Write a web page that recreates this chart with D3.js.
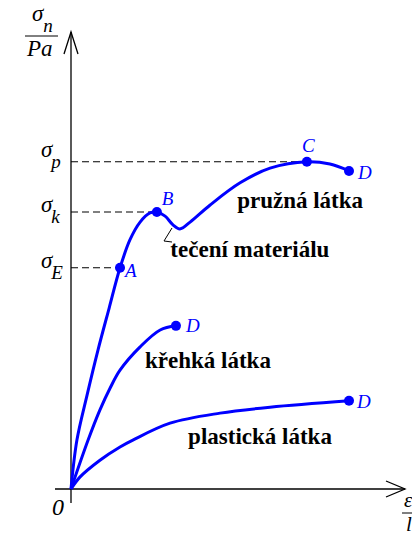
<!DOCTYPE html>
<html lang="cs">
<head>
    <meta charset="utf-8">
    <title>Tahový diagram</title>
    <style>
        body { margin: 0; background: #fff; }
        svg { display: block; }
    </style>
    <script src="https://d3js.org/d3.v7.min.js"></script>
</head>
<body>
<svg></svg>
<script>
    const width = 412;
    const height = 539;
    const serif = "Liberation Serif";

    // curves: [strain, stress] in relative units (0..100)
    const pruzna = [
        [0, 0], [1.8, 10.7], [4.9, 20.6], [8.2, 30.4], [11.6, 39.6], [14.9, 48.4],
        [17.9, 54.5], [21.0, 58.4], [24.0, 60.4], [26.1, 60.6], [28.6, 59.7],
        [31.0, 57.8], [33.1, 56.9], [36.2, 58.4], [42.2, 62.1], [51.4, 67.0],
        [60.5, 70.2], [71.7, 71.6], [78.7, 71.1], [84.5, 69.6]
    ];
    const krehka = [
        [0, 0], [5.2, 10.7], [8.8, 17.3], [11.9, 22.1], [14.9, 26.0],
        [21.0, 31.1], [27.1, 34.8], [31.9, 35.7]
    ];
    const plasticka = [
        [0, 0], [2.7, 2.6], [8.8, 6.3], [14.9, 9.2], [18.8, 10.7],
        [30.1, 14.4], [45.3, 16.6], [60.5, 17.9], [84.5, 19.3]
    ];

    // marked points
    const pointNames = ["A", "B", "C", "D", "D", "D"];
    const pointX = [14.9, 26.1, 71.7, 84.5, 31.9, 84.5];
    const pointY = [48.4, 60.6, 71.6, 69.6, 35.7, 19.3];

    // stress levels on the y axis
    const levelSubs = ["p", "k", "E"];
    const levelY = [71.6, 60.6, 48.4];
    const levelToX = [71.7, 26.1, 14.9];

    const materialTexts = ["pružná látka", "tečení materiálu", "křehká látka", "plastická látka"];
    const materialX = [50.5, 30.2, 22.5, 35.6];
    const materialY = [61.5, 50.8, 26.4, 9.8];

    // label offsets in px
    const pointOffsets = [[5, 9], [5, -7], [-5, -10], [9, 8], [10, 6], [8, 7]];
    const levelOffsets = [-5, 0, 0];

    const points = pointNames.map((n, i) => ({ name: n, x: pointX[i], y: pointY[i], off: pointOffsets[i] }));
    const levels = levelSubs.map((s, i) => ({ sub: s, y: levelY[i], toX: levelToX[i], off: levelOffsets[i] }));
    const materials = materialTexts.map((t, i) => ({ text: t, x: materialX[i], y: materialY[i] }));

    const svg = d3.select("svg").attr("width", width).attr("height", height);

    const x = d3.scaleLinear().domain([0, 100]).range([71, 400]);
    const y = d3.scaleLinear().domain([0, 100]).range([489, 32]);

    const line = d3.line()
        .x(d => x(d[0]))
        .y(d => y(d[1]))
        .curve(d3.curveCatmullRom.alpha(0.5));

    // dashed guides
    svg.selectAll(".guide")
        .data(levels)
        .enter().append("line")
        .attr("class", "guide")
        .attr("x1", x(0)).attr("x2", d => x(d.toX))
        .attr("y1", d => y(d.y)).attr("y2", d => y(d.y))
        .attr("stroke", "#000")
        .attr("stroke-width", 1.1)
        .attr("stroke-dasharray", "7,4");

    // axes
    const ox = x(0), oy = y(0);
    svg.append("line")
        .attr("x1", ox).attr("y1", oy + 14).attr("x2", ox).attr("y2", 32)
        .attr("stroke", "#000").attr("stroke-width", 1.3);
    svg.append("line")
        .attr("x1", ox - 16).attr("y1", oy).attr("x2", 405).attr("y2", oy)
        .attr("stroke", "#000").attr("stroke-width", 1.3);
    svg.append("path")
        .attr("d", `M${ox - 7},54 L${ox},32 L${ox + 7},54`)
        .attr("fill", "none").attr("stroke", "#000").attr("stroke-width", 1.3);
    svg.append("path")
        .attr("d", `M386,${oy - 8} L405,${oy} L386,${oy + 8}`)
        .attr("fill", "none").attr("stroke", "#000").attr("stroke-width", 1.3);

    // curves
    [pruzna, krehka, plasticka].forEach(c => {
        svg.append("path")
            .datum(c)
            .attr("d", line)
            .attr("fill", "none")
            .attr("stroke", "#0000ff")
            .attr("stroke-width", 3);
    });

    // yield marker
    svg.append("path")
        .attr("d", "M172,228 L164,241 L172,242")
        .attr("fill", "none").attr("stroke", "#000").attr("stroke-width", 1);

    svg.selectAll(".dot")
        .data(points)
        .enter().append("circle")
        .attr("class", "dot")
        .attr("cx", d => x(d.x))
        .attr("cy", d => y(d.y))
        .attr("r", 5)
        .attr("fill", "#0000ff");

    svg.selectAll(".pt")
        .data(points)
        .enter().append("text")
        .attr("class", "pt")
        .attr("font-family", serif)
        .attr("font-style", "italic")
        .attr("font-size", 19)
        .attr("fill", "#0000ff")
        .attr("x", d => x(d.x) + d.off[0])
        .attr("y", d => y(d.y) + d.off[1])
        .text(d => d.name);

    svg.selectAll(".mat")
        .data(materials)
        .enter().append("text")
        .attr("class", "mat")
        .attr("font-family", serif)
        .attr("font-weight", "bold")
        .attr("font-size", 23)
        .attr("x", d => x(d.x))
        .attr("y", d => y(d.y))
        .text(d => d.text);

    function italic(sel, size) {
        return sel.attr("font-family", serif).attr("font-style", "italic").attr("font-size", size);
    }

    // sigma labels
    const sig = italic(svg.selectAll(".sig")
        .data(levels)
        .enter().append("text")
        .attr("class", "sig"), 23)
        .attr("x", 41)
        .attr("y", d => y(d.y) + d.off);
    sig.append("tspan").text("σ");
    sig.append("tspan")
        .attr("dx", -1).attr("dy", 11)
        .attr("font-size", 19)
        .text(d => d.sub);

    // y axis unit
    const yl = italic(svg.append("text"), 23).attr("x", 32).attr("y", 21);
    yl.append("tspan").text("σ");
    yl.append("tspan").attr("dx", 0).attr("dy", 11).attr("font-size", 19).text("n");
    svg.append("line").attr("x1", 25).attr("x2", 58).attr("y1", 36).attr("y2", 36)
        .attr("stroke", "#000").attr("stroke-width", 1);
    italic(svg.append("text"), 23).attr("x", 27).attr("y", 56).text("Pa");

    // x axis unit
    italic(svg.append("text"), 21).attr("x", 404).attr("y", 507).text("ε");
    svg.append("line").attr("x1", 402).attr("x2", 420).attr("y1", 513).attr("y2", 513)
        .attr("stroke", "#000").attr("stroke-width", 1);
    italic(svg.append("text"), 21).attr("x", 406).attr("y", 531).text("l");

    // origin
    italic(svg.append("text"), 24).attr("x", 52).attr("y", 515).text("0");
</script>
</body>
</html>
